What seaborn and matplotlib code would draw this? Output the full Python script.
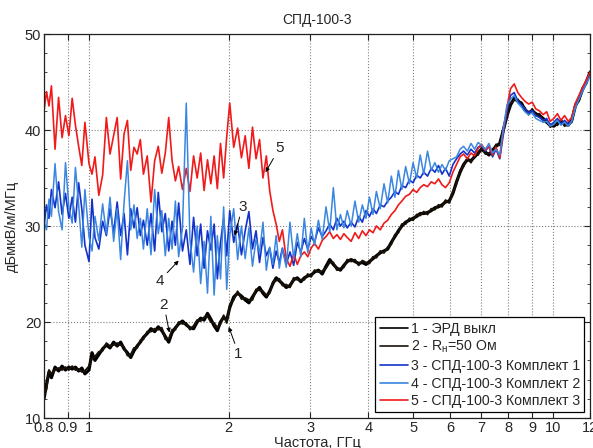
import matplotlib
matplotlib.use("Agg")
import matplotlib.pyplot as plt
import numpy as np
import pandas as pd
import seaborn as sns
from matplotlib.ticker import FixedLocator, MultipleLocator, NullLocator

# ---------------- data ----------------
freq = [0.80, 0.81, 0.82, 0.83, 0.845, 0.86, 0.875, 0.89, 0.905, 0.92, 0.935, 0.95, 0.965, 0.98, 1.00,
        1.015, 1.03, 1.05, 1.07, 1.09, 1.11, 1.13, 1.15, 1.17, 1.19, 1.21, 1.23, 1.25, 1.27, 1.29,
        1.31, 1.335, 1.36, 1.385, 1.41, 1.435, 1.46, 1.485, 1.51, 1.535, 1.56, 1.59, 1.62, 1.65, 1.68,
        1.71, 1.74, 1.77, 1.80, 1.83, 1.86, 1.89, 1.92, 1.95, 1.98, 2.01, 2.05, 2.09, 2.13, 2.17,
        2.21, 2.25, 2.29, 2.33, 2.37, 2.41, 2.45, 2.49, 2.53, 2.57, 2.61, 2.66, 2.71, 2.76, 2.81,
        2.86, 2.91, 2.96, 3.01, 3.06, 3.12, 3.18, 3.24, 3.30, 3.36, 3.42, 3.48, 3.54, 3.60, 3.67,
        3.74, 3.81, 3.88, 3.95, 4.02, 4.09, 4.16, 4.24, 4.32, 4.40, 4.48, 4.56, 4.64, 4.72, 4.81,
        4.90, 4.99, 5.08, 5.17, 5.26, 5.36, 5.46, 5.56, 5.66, 5.76, 5.86, 5.97, 6.08, 6.19, 6.30,
        6.41, 6.53, 6.65, 6.77, 6.89, 7.01, 7.14, 7.27, 7.40, 7.53, 7.67, 7.81, 7.95, 8.09, 8.24,
        8.39, 8.54, 8.69, 8.85, 9.01, 9.17, 9.34, 9.51, 9.68, 9.85, 10.03, 10.21, 10.39, 10.58, 10.77,
        10.96, 11.16, 11.36, 11.56, 11.78, 12.0]

s1_erd_off = [12.0, 13.5, 14.8, 14.2, 15.3, 14.9, 15.4, 15.0, 15.3, 15.1, 15.3, 14.9, 15.2, 14.6, 15.0,
              16.8, 16.0, 16.6, 17.2, 17.6, 17.3, 17.9, 17.5, 17.9, 17.2, 16.8, 16.3, 17.0, 17.5, 17.9,
              18.4, 18.8, 19.3, 19.0, 19.5, 19.1, 18.5, 17.9, 18.9, 19.4, 19.8, 20.1, 19.7, 19.4, 19.3,
              20.0, 20.4, 20.2, 20.9, 20.3, 19.6, 19.1, 20.0, 20.5, 20.2, 21.5, 22.6, 23.0, 22.7, 22.3,
              22.0, 22.6, 23.2, 23.6, 23.0, 22.6, 23.2, 24.0, 24.6, 24.3, 24.0, 23.6, 23.8, 24.4, 24.6,
              24.2, 24.6, 24.8, 24.9, 25.2, 25.4, 25.0, 25.8, 26.5, 26.0, 25.6, 25.4, 25.9, 26.3, 26.5,
              26.3, 26.1, 26.2, 26.0, 26.3, 26.6, 26.9, 27.2, 27.4, 27.6, 28.3, 28.9, 29.5, 30.0, 30.4,
              30.6, 30.8, 31.0, 31.3, 31.3, 31.4, 31.6, 31.9, 32.0, 32.2, 32.5, 32.6, 33.4, 34.6, 35.6,
              36.4, 36.9, 36.8, 37.2, 37.6, 38.0, 37.7, 37.4, 37.9, 38.3, 38.6, 40.0, 41.5, 42.6, 43.3,
              43.0, 42.8, 42.1, 41.8, 42.0, 41.7, 41.5, 41.2, 40.8, 40.5, 40.4, 40.7, 40.9, 40.6, 40.5,
              41.0, 42.5, 43.2, 44.2, 45.0, 46.0]

s2_load50 = [12.4, 13.0, 15.0, 14.6, 15.0, 15.2, 15.0, 15.3, 15.0, 15.4, 15.0, 15.1, 14.8, 14.9, 15.4,
             16.2, 16.4, 16.9, 17.0, 17.8, 17.5, 17.6, 17.8, 17.6, 17.4, 16.5, 16.6, 17.3, 17.3, 18.1,
             18.2, 19.0, 19.0, 19.3, 19.2, 19.4, 18.2, 18.2, 19.2, 19.2, 20.0, 19.8, 19.9, 19.2, 19.6,
             20.2, 20.1, 20.5, 20.6, 20.0, 19.9, 19.4, 19.8, 20.7, 19.9, 21.8, 22.3, 23.2, 22.4, 22.5,
             22.3, 22.3, 23.4, 23.3, 23.2, 22.8, 23.0, 24.2, 24.3, 24.5, 23.8, 23.9, 23.6, 24.6, 24.4,
             24.4, 24.4, 25.0, 24.7, 25.4, 25.2, 25.3, 25.6, 26.2, 26.2, 25.4, 25.6, 25.7, 26.5, 26.3,
             26.5, 25.9, 26.4, 26.2, 26.1, 26.8, 26.7, 27.4, 27.2, 27.8, 28.1, 29.1, 29.3, 30.2, 30.2,
             30.8, 30.6, 31.2, 31.1, 31.5, 31.2, 31.8, 31.7, 32.2, 32.0, 32.7, 32.4, 33.6, 34.4, 35.8,
             36.2, 37.1, 36.6, 37.4, 37.4, 38.2, 37.5, 37.6, 37.7, 38.5, 38.4, 40.2, 41.3, 42.8, 43.1,
             43.2, 42.6, 42.3, 41.6, 42.2, 41.5, 41.7, 41.0, 41.0, 40.3, 40.6, 40.5, 41.1, 40.4, 40.7,
             40.8, 42.7, 43.0, 44.4, 44.8, 46.1]

s3_kit1 = [30.0, 32.2, 30.8, 33.8, 31.9, 34.6, 31.2, 33.4, 30.8, 33.0, 30.4, 34.5, 31.8, 28.0, 26.3,
           32.8, 28.8, 27.6, 30.5, 29.0, 31.8, 29.3, 32.5, 29.0, 31.3, 27.0, 31.8, 29.8, 31.9, 29.0,
           30.6, 28.0, 31.3, 27.4, 33.5, 29.4, 31.3, 27.4, 30.5, 28.0, 32.4, 27.4, 29.6, 26.0, 30.9,
           26.9, 30.2, 25.6, 29.5, 27.5, 30.2, 24.5, 28.3, 30.8, 26.9, 31.6, 28.3, 30.2, 27.0, 29.5,
           31.5, 27.6, 29.5, 26.2, 28.8, 26.9, 27.7, 25.6, 27.4, 26.2, 27.7, 26.0, 27.3, 25.9, 28.3,
           27.3, 28.7, 27.6, 28.9, 28.3, 29.8, 28.9, 29.5, 30.2, 29.6, 30.8, 30.0, 30.5, 29.8, 30.4,
           29.9, 31.0, 30.4, 31.6, 31.0, 31.8, 31.3, 32.2, 32.0, 32.6, 33.0, 33.6, 33.3, 34.2, 34.0,
           34.8, 34.5, 35.3, 35.0, 35.6, 35.2, 36.0, 35.6, 36.3, 35.4, 36.0, 35.2, 36.4, 37.0, 37.5,
           37.8, 37.4, 38.0, 37.6, 38.2, 38.4, 37.8, 38.3, 37.2, 38.0, 37.0, 39.6, 42.0, 43.6, 43.9,
           43.0, 42.6, 42.2, 41.8, 42.0, 41.5, 41.3, 41.0, 41.2, 40.5, 40.8, 41.2, 40.6, 41.0, 40.6,
           41.0, 42.6, 43.4, 44.2, 45.0, 45.8]

s4_kit2 = [30.5, 29.6, 32.8, 31.0, 36.5, 31.5, 29.6, 36.6, 32.0, 30.3, 36.1, 32.2, 27.8, 33.8, 28.9,
           27.4, 31.0, 28.5, 32.3, 29.2, 33.0, 28.4, 31.8, 26.5, 32.4, 36.8, 29.6, 32.2, 28.7, 30.8,
           27.6, 31.8, 27.0, 33.8, 29.2, 31.6, 26.9, 30.8, 27.6, 32.6, 26.8, 29.8, 42.8, 28.6, 25.2,
           30.0, 24.0, 28.4, 23.0, 31.0, 22.8, 29.0, 24.5, 32.0, 23.4, 29.0, 31.8, 26.5, 30.0, 26.6,
           29.8, 25.8, 28.6, 27.2, 30.4, 25.4, 27.8, 26.0, 29.0, 25.6, 27.6, 25.7, 30.4, 26.6, 29.2,
           26.8, 30.8, 27.2, 29.8, 28.0, 30.6, 28.6, 32.0, 29.4, 34.0, 29.6, 31.2, 29.8, 31.6, 30.0,
           32.6, 30.4, 32.2, 30.8, 33.0, 31.2, 33.6, 31.8, 34.4, 32.4, 35.2, 33.0, 35.8, 33.8, 36.2,
           34.4, 36.6, 35.0, 37.4, 35.4, 37.8, 35.8, 36.6, 35.6, 36.4, 35.8, 36.8, 37.0, 37.2, 38.0,
           38.3, 37.8, 38.6, 38.0, 38.7, 38.4, 38.0, 38.6, 37.6, 38.0, 37.4, 40.2, 42.6, 43.2, 43.6,
           42.8, 42.4, 41.9, 41.6, 41.8, 41.2, 41.0, 40.8, 40.9, 40.4, 40.6, 41.0, 40.5, 40.8, 40.4,
           40.9, 42.3, 43.2, 44.0, 44.8, 45.6]

s5_kit3 = [42.0, 44.0, 42.5, 44.6, 38.0, 43.4, 39.2, 41.5, 39.4, 43.3, 40.5, 38.3, 36.3, 40.8, 36.5,
           35.4, 37.2, 33.2, 35.3, 41.3, 37.5, 39.4, 41.3, 34.9, 39.6, 41.0, 35.8, 38.2, 37.5, 39.0,
           35.4, 37.3, 32.5, 36.8, 38.3, 35.5, 37.6, 41.3, 36.8, 34.7, 36.2, 33.8, 36.0, 33.6, 37.3,
           35.0, 37.6, 33.7, 36.9, 34.4, 37.3, 33.9, 38.6, 35.0, 39.3, 42.8, 38.2, 40.2, 37.1, 39.4,
           36.0, 40.3, 37.0, 39.0, 35.0, 37.3, 33.7, 31.6, 30.2, 28.4, 29.6, 26.6, 25.8, 27.1, 26.0,
           26.9, 27.3, 26.8, 27.7, 28.2, 27.6, 28.5, 28.9, 29.4, 28.7, 29.1, 28.6, 29.2, 28.8, 28.4,
           29.3, 28.7, 29.5, 29.0, 29.6, 29.3, 30.0, 29.6, 30.3, 30.6, 31.2, 31.6, 32.2, 32.6, 33.1,
           33.3, 33.8, 33.5, 34.0, 34.3, 34.1, 34.6, 34.4, 34.9, 34.3, 34.0, 34.5, 35.6, 36.4, 37.2,
           37.5, 37.0, 37.6, 37.3, 38.1, 38.5, 37.9, 38.3, 37.4, 38.2, 37.1, 40.0, 42.4, 44.3, 44.8,
           43.9, 43.4, 43.0, 42.7, 42.9, 42.2, 42.0, 41.6, 41.9, 40.9, 41.2, 41.7, 41.0, 41.5, 40.9,
           41.3, 42.8, 43.6, 44.4, 45.2, 46.0]

labels = ["1 - ЭРД выкл",
          "2 - R$_\\mathregular{н}$=50 Ом",
          "3 - СПД-100-3 Комплект 1",
          "4 - СПД-100-3 Комплект 2",
          "5 - СПД-100-3 Комплект 3"]
series = [s1_erd_off, s2_load50, s3_kit1, s4_kit2, s5_kit3]

x_ticks = [0.8, 0.9, 1, 2, 3, 4, 5, 6, 7, 8, 9, 10, 12]
x_ticklabels = ["0.8", "0.9", "1", "2", "3", "4", "5", "6", "7", "8", "9", "10", "12"]

# annotation: (label, arrow head (f, v), text (f, v))
ann_text = ["1", "2", "3", "4", "5"]
ann_head = [(2.00, 19.5), (1.49, 18.9), (2.06, 29.0), (1.56, 26.4), (2.40, 35.6)]
ann_pos = [(2.10, 16.7), (1.45, 21.8), (2.14, 32.0), (1.42, 24.3), (2.57, 38.1)]

# ---------------- style ----------------
sns.set_style("ticks")
plt.rcParams['font.family'] = ['Liberation Sans', 'DejaVu Sans']
plt.rcParams['mathtext.fontset'] = 'custom'
plt.rcParams['mathtext.rm'] = 'Liberation Sans'

colors = ["#000000", "#1a1208", "#1432c8", "#3a86e0", "#f01a1a"]
widths = [2.3, 1.4, 1.2, 1.1, 1.2]
zorders = [2.1, 2.2, 2.3, 2.5, 2.4]

fig = plt.figure(figsize=(5.93, 4.48), dpi=100)
ax = fig.add_axes([44 / 593, 30 / 448, 546 / 593, 384 / 448])

for vals, lab, c, w, z in zip(series, labels, colors, widths, zorders):
    df = pd.DataFrame({"f": freq, "v": vals})
    sns.lineplot(data=df, x="f", y="v", ax=ax, color=c, linewidth=w,
                 label=lab, estimator=None, sort=False)
    ax.lines[-1].set_zorder(z)

ax.set_xscale("log")
ax.set_xlim(0.8, 12)
ax.set_ylim(10, 50)
ax.xaxis.set_major_locator(FixedLocator(x_ticks))
ax.xaxis.set_minor_locator(NullLocator())
ax.set_xticklabels(x_ticklabels)
ax.yaxis.set_major_locator(MultipleLocator(10))
ax.yaxis.set_minor_locator(MultipleLocator(2))
ax.grid(True, which="major", linestyle=":", color="0.5", linewidth=0.8)
ax.tick_params(axis="both", which="both", direction="in", top=True, right=True,
               labelsize=10.5, pad=2)
ax.tick_params(which="major", length=4)
ax.tick_params(which="minor", length=2)
for sp in ax.spines.values():
    sp.set_linewidth(0.9)
    sp.set_color("#222222")

ax.set_title("СПД-100-3", fontsize=10, pad=7)
ax.set_xlabel("Частота, ГГц", fontsize=10.5, labelpad=1)
ax.set_ylabel("дБмкВ/м/МГц", fontsize=10.5, labelpad=4)

for t, h, p in zip(ann_text, ann_head, ann_pos):
    ax.annotate(t, xy=h, xytext=p, fontsize=11, ha="center", va="center",
                arrowprops=dict(arrowstyle="-|>", color="black", lw=0.7,
                                mutation_scale=6, shrinkA=0, shrinkB=0), zorder=5)

leg = ax.legend(loc="lower right", frameon=True, fancybox=False, edgecolor="black",
                framealpha=1, fontsize=10.2, handlelength=2.0, handletextpad=0.2,
                labelspacing=0.25, borderpad=0.3, borderaxespad=0.4)
leg.get_frame().set_linewidth(0.9)
for line in leg.get_lines():
    line.set_linewidth(1.2)

fig.savefig("out.png", dpi=100)
